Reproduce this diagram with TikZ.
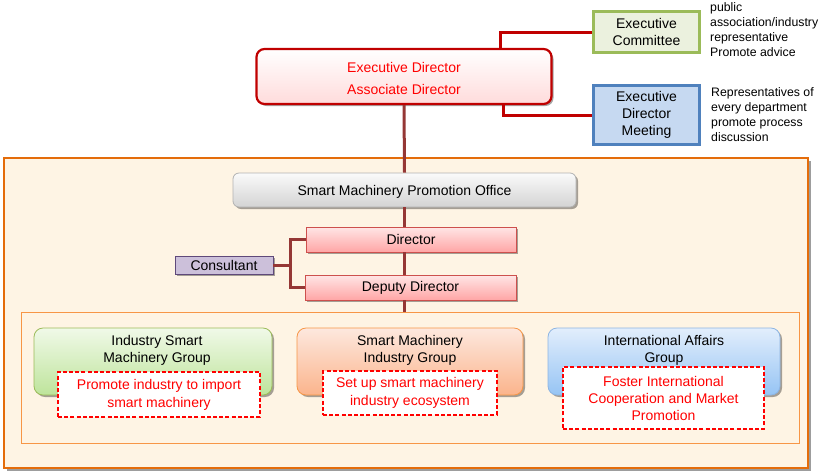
\documentclass[tikz,border=0pt]{standalone}
\usepackage{fontspec}
\setmainfont{Liberation Sans}
\usetikzlibrary{shadows}
\definecolor{redline}{HTML}{C00000}
\definecolor{brownline}{HTML}{953735}
\definecolor{cream}{HTML}{FEF4E4}
\definecolor{orangeb}{HTML}{E46C0A}
\definecolor{orangel}{HTML}{F79646}
\definecolor{ecborder}{HTML}{9BBB59}
\begin{document}
\begin{tikzpicture}[x=1pt,y=-1pt,
  every node/.style={font=\fontsize{14}{17}\selectfont, inner sep=0pt, align=center},
  shad/.style={drop shadow={shadow xshift=2pt,shadow yshift=-2pt,opacity=0.35,fill=black}},
  sidetext/.style={font=\fontsize{12.3}{15}\selectfont, align=left, anchor=west},
  grp/.style={rounded corners=9pt, line width=0.8pt, shad},
  dbox/.style={draw=red, fill=white, line width=1.6pt, dash pattern=on 4pt off 2.2pt, text=red, font=\fontsize{14}{18}\selectfont},
  bline/.style={brownline, line width=3pt},
  rline/.style={redline, line width=3pt}
]
\useasboundingbox (0,0) rectangle (827,475);

% outer frame
\node[draw=orangeb, fill=cream, line width=1.2pt, minimum width=804pt, minimum height=310pt,
  drop shadow={shadow xshift=3pt,shadow yshift=-3pt,opacity=0.55,fill=black!70}] (outer) at (406,313) {};
\node[draw=orangel, line width=0.8pt, minimum width=778pt, minimum height=131pt] (inner) at (410,377.5) {};

% top part
\node[draw=redline, line width=2.2pt, rounded corners=8pt, top color=white, bottom color=red!14,
  minimum width=295pt, minimum height=55pt, text=red, font=\fontsize{14}{22}\selectfont, shad] (ed) at (404,76.5)
  {};
\node (edt) at ([yshift=-2pt]ed.center) {\textcolor{red}{Executive Director}\\[5pt]\textcolor{red}{Associate Director}};
\node[draw=ecborder, fill={rgb,255:red,235;green,241;blue,222}, line width=2.5pt,
  minimum width=106pt, minimum height=41pt] (ec) at (646.5,32) {Executive\\Committee};
\node[draw={rgb,255:red,79;green,129;blue,189}, fill={rgb,255:red,198;green,217;blue,241}, line width=2.5pt,
  minimum width=106pt, minimum height=59pt] (edm) at (646.5,115) {Executive\\Director\\Meeting};
\node[sidetext] (s1) at (710,30) {public\\association/industry\\representative\\Promote advice};
\node[sidetext] (s2) at (711,114.5) {Representatives of\\every department\\promote process\\discussion};

\draw[rline] ([xshift=96pt]ed.north) |- (ec.west);
\draw[rline] ([xshift=99pt]ed.south) |- (edm.west);

% office
\node[draw=black!30, line width=0.8pt, rounded corners=6pt, top color=black!2, bottom color=black!17,
  minimum width=343pt, minimum height=34pt, shad] (office) at (404.5,190) {};
\node (officet) at ([yshift=-1.5pt]office.center) {Smart Machinery Promotion Office};
\draw[bline] (ed.south) -- (office.north);

\node[draw={rgb,255:red,205;green,80;blue,77}, line width=0.8pt, top color=red!10, bottom color=red!35,
  minimum width=210pt, minimum height=25pt, shad] (dir) at (411,239.5) {Director};
\node[draw={rgb,255:red,205;green,80;blue,77}, line width=0.8pt, top color=red!10, bottom color=red!35,
  minimum width=211pt, minimum height=25pt, shad] (dep) at (410.5,287.5) {Deputy Director};
\node[draw={rgb,255:red,95;green,73;blue,122}, fill={rgb,255:red,204;green,192;blue,218}, line width=0.8pt,
  minimum width=98pt, minimum height=18pt, shad] (cons) at (224,265) {Consultant};

\draw[bline] (office.south -| 404,0) -- (dir.north -| 404,0);
\draw[bline] (dir.south -| 404,0) -- (dep.north -| 404,0);
\draw[bline] (dep.south -| 404,0) -- (inner.north -| 404,0);

\coordinate (brk) at (290,265);
\draw[bline] (cons.east) -- (brk);
\draw[bline, line join=miter] (dir.west) -| (brk);
\draw[bline, line join=miter] (dep.west) -| (brk);

% groups
\node[grp, draw=ecborder, top color={rgb,255:red,240;green,249;blue,232},
  bottom color={rgb,255:red,190;green,228;blue,155}, minimum width=238pt, minimum height=67pt] (g1) at (153,361.5) {};
\node[grp, draw=orangel, top color={rgb,255:red,253;green,232;blue,222},
  bottom color={rgb,255:red,251;green,180;blue,140}, minimum width=226pt, minimum height=67pt] (g2) at (410,361.5) {};
\node[grp, draw={rgb,255:red,141;green,180;blue,226}, top color={rgb,255:red,226;green,238;blue,252},
  bottom color={rgb,255:red,150;green,196;blue,244}, minimum width=232pt, minimum height=67pt] (g3) at (664,361.5) {};

\node[anchor=north] (g1t) at ([xshift=4pt,yshift=-8pt]g1.north) {Industry Smart\\Machinery Group};
\node[anchor=north] (g2t) at ([yshift=-8pt]g2.north) {Smart Machinery\\Industry Group};
\node[anchor=north] (g3t) at ([yshift=-8pt]g3.north) {International Affairs\\Group};

\node[dbox, minimum width=202pt, minimum height=45pt] (d1) at (159,394.5) {Promote industry to import\\smart machinery};
\node[dbox, minimum width=174pt, minimum height=44pt] (d2) at (410,393) {Set up smart machinery\\industry ecosystem};
\node[dbox, minimum width=201pt, minimum height=62pt, font=\fontsize{14}{17}\selectfont] (d3) at (663.5,398) {Foster International\\Cooperation and Market\\Promotion};
\end{tikzpicture}
\end{document}
